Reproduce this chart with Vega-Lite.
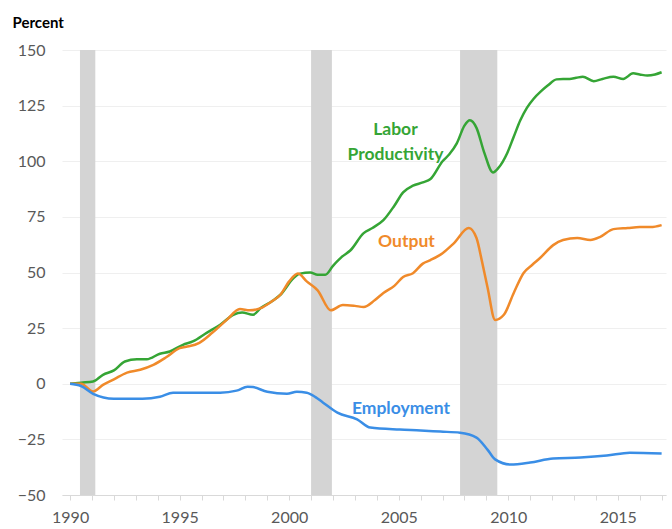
{
  "$schema": "https://vega.github.io/schema/vega-lite/v6.json",
  "width": 604,
  "height": 445,
  "autosize": {"type": "none"},
  "padding": {"left": 62, "top": 50, "right": 6, "bottom": 34},
  "background": "white",
  "config": {
    "view": {"stroke": null},
    "font": "Lato",
    "axis": {"labelFont": "Lato", "titleFont": "Lato"}
  },
  "datasets": {
    "rec": [
      {"start": 1990.45, "end": 1991.15},
      {"start": 2001.0, "end": 2001.95},
      {"start": 2007.8, "end": 2009.5}
    ],
    "series": [
      {"series": "Labor Productivity", "date": 1990.0, "value": 0},
      {"series": "Labor Productivity", "date": 1990.5, "value": 0.5},
      {"series": "Labor Productivity", "date": 1991.05, "value": 1},
      {"series": "Labor Productivity", "date": 1991.5, "value": 4},
      {"series": "Labor Productivity", "date": 1992.0, "value": 6},
      {"series": "Labor Productivity", "date": 1992.5, "value": 10},
      {"series": "Labor Productivity", "date": 1993.05, "value": 11},
      {"series": "Labor Productivity", "date": 1993.5, "value": 11},
      {"series": "Labor Productivity", "date": 1994.1, "value": 13.5},
      {"series": "Labor Productivity", "date": 1994.55, "value": 14.5},
      {"series": "Labor Productivity", "date": 1995.15, "value": 17.5},
      {"series": "Labor Productivity", "date": 1995.6, "value": 19},
      {"series": "Labor Productivity", "date": 1996.25, "value": 23},
      {"series": "Labor Productivity", "date": 1996.85, "value": 26.5},
      {"series": "Labor Productivity", "date": 1997.45, "value": 31},
      {"series": "Labor Productivity", "date": 1997.85, "value": 32},
      {"series": "Labor Productivity", "date": 1998.35, "value": 31},
      {"series": "Labor Productivity", "date": 1998.7, "value": 34},
      {"series": "Labor Productivity", "date": 1999.2, "value": 37},
      {"series": "Labor Productivity", "date": 1999.6, "value": 40},
      {"series": "Labor Productivity", "date": 2000.2, "value": 47.5},
      {"series": "Labor Productivity", "date": 2000.5, "value": 49.5},
      {"series": "Labor Productivity", "date": 2000.96, "value": 50},
      {"series": "Labor Productivity", "date": 2001.3, "value": 49},
      {"series": "Labor Productivity", "date": 2001.65, "value": 49},
      {"series": "Labor Productivity", "date": 2002.0, "value": 53},
      {"series": "Labor Productivity", "date": 2002.4, "value": 57},
      {"series": "Labor Productivity", "date": 2002.8, "value": 60},
      {"series": "Labor Productivity", "date": 2003.4, "value": 67.7},
      {"series": "Labor Productivity", "date": 2003.8, "value": 70},
      {"series": "Labor Productivity", "date": 2004.3, "value": 73.5},
      {"series": "Labor Productivity", "date": 2004.8, "value": 80},
      {"series": "Labor Productivity", "date": 2005.2, "value": 86},
      {"series": "Labor Productivity", "date": 2005.65, "value": 89},
      {"series": "Labor Productivity", "date": 2006.1, "value": 90.5},
      {"series": "Labor Productivity", "date": 2006.45, "value": 92},
      {"series": "Labor Productivity", "date": 2007.0, "value": 100},
      {"series": "Labor Productivity", "date": 2007.3, "value": 103},
      {"series": "Labor Productivity", "date": 2007.65, "value": 108},
      {"series": "Labor Productivity", "date": 2008.0, "value": 116},
      {"series": "Labor Productivity", "date": 2008.25, "value": 118.4},
      {"series": "Labor Productivity", "date": 2008.55, "value": 115},
      {"series": "Labor Productivity", "date": 2008.9, "value": 104},
      {"series": "Labor Productivity", "date": 2009.3, "value": 95},
      {"series": "Labor Productivity", "date": 2009.55, "value": 97},
      {"series": "Labor Productivity", "date": 2009.95, "value": 103.6},
      {"series": "Labor Productivity", "date": 2010.25, "value": 111},
      {"series": "Labor Productivity", "date": 2010.55, "value": 118.4},
      {"series": "Labor Productivity", "date": 2010.85, "value": 124},
      {"series": "Labor Productivity", "date": 2011.15, "value": 128},
      {"series": "Labor Productivity", "date": 2011.5, "value": 131.5},
      {"series": "Labor Productivity", "date": 2011.8, "value": 134},
      {"series": "Labor Productivity", "date": 2012.2, "value": 136.8},
      {"series": "Labor Productivity", "date": 2012.5, "value": 137},
      {"series": "Labor Productivity", "date": 2012.8, "value": 137},
      {"series": "Labor Productivity", "date": 2013.1, "value": 137.5},
      {"series": "Labor Productivity", "date": 2013.4, "value": 138},
      {"series": "Labor Productivity", "date": 2013.9, "value": 136},
      {"series": "Labor Productivity", "date": 2014.3, "value": 137},
      {"series": "Labor Productivity", "date": 2014.8, "value": 138},
      {"series": "Labor Productivity", "date": 2015.25, "value": 137},
      {"series": "Labor Productivity", "date": 2015.7, "value": 139.5},
      {"series": "Labor Productivity", "date": 2016.0, "value": 139},
      {"series": "Labor Productivity", "date": 2016.35, "value": 138.5},
      {"series": "Labor Productivity", "date": 2016.7, "value": 139},
      {"series": "Labor Productivity", "date": 2017.0, "value": 140},
      {"series": "Output", "date": 1990.0, "value": 0},
      {"series": "Output", "date": 1990.5, "value": 0},
      {"series": "Output", "date": 1991.05, "value": -3.5},
      {"series": "Output", "date": 1991.5, "value": -0.5},
      {"series": "Output", "date": 1992.0, "value": 2},
      {"series": "Output", "date": 1992.6, "value": 5},
      {"series": "Output", "date": 1993.2, "value": 6.3},
      {"series": "Output", "date": 1993.8, "value": 8.5},
      {"series": "Output", "date": 1994.4, "value": 12},
      {"series": "Output", "date": 1995.0, "value": 16},
      {"series": "Output", "date": 1995.3, "value": 16.6},
      {"series": "Output", "date": 1995.9, "value": 18.4},
      {"series": "Output", "date": 1996.5, "value": 23},
      {"series": "Output", "date": 1997.15, "value": 28.7},
      {"series": "Output", "date": 1997.75, "value": 33.6},
      {"series": "Output", "date": 1998.2, "value": 33},
      {"series": "Output", "date": 1998.7, "value": 34},
      {"series": "Output", "date": 1999.2, "value": 37},
      {"series": "Output", "date": 1999.6, "value": 40},
      {"series": "Output", "date": 2000.0, "value": 46},
      {"series": "Output", "date": 2000.4, "value": 49.5},
      {"series": "Output", "date": 2000.8, "value": 46},
      {"series": "Output", "date": 2001.3, "value": 42},
      {"series": "Output", "date": 2001.9, "value": 33},
      {"series": "Output", "date": 2002.45, "value": 35.4},
      {"series": "Output", "date": 2003.0, "value": 35},
      {"series": "Output", "date": 2003.4, "value": 34.5},
      {"series": "Output", "date": 2003.9, "value": 37.5},
      {"series": "Output", "date": 2004.3, "value": 40.8},
      {"series": "Output", "date": 2004.8, "value": 44},
      {"series": "Output", "date": 2005.2, "value": 48},
      {"series": "Output", "date": 2005.65, "value": 49.7},
      {"series": "Output", "date": 2006.1, "value": 54},
      {"series": "Output", "date": 2006.45, "value": 55.6},
      {"series": "Output", "date": 2007.0, "value": 58.7},
      {"series": "Output", "date": 2007.5, "value": 63},
      {"series": "Output", "date": 2008.2, "value": 70},
      {"series": "Output", "date": 2008.55, "value": 65.5},
      {"series": "Output", "date": 2008.8, "value": 55},
      {"series": "Output", "date": 2009.05, "value": 43.5},
      {"series": "Output", "date": 2009.4, "value": 28.7},
      {"series": "Output", "date": 2009.8, "value": 31},
      {"series": "Output", "date": 2010.25, "value": 40.8},
      {"series": "Output", "date": 2010.7, "value": 49.8},
      {"series": "Output", "date": 2011.1, "value": 53.5},
      {"series": "Output", "date": 2011.45, "value": 56.5},
      {"series": "Output", "date": 2012.05, "value": 62.3},
      {"series": "Output", "date": 2012.5, "value": 64.6},
      {"series": "Output", "date": 2013.15, "value": 65.5},
      {"series": "Output", "date": 2013.75, "value": 64.6},
      {"series": "Output", "date": 2014.2, "value": 66},
      {"series": "Output", "date": 2014.8, "value": 69.5},
      {"series": "Output", "date": 2015.45, "value": 70},
      {"series": "Output", "date": 2016.0, "value": 70.4},
      {"series": "Output", "date": 2016.5, "value": 70.4},
      {"series": "Output", "date": 2017.0, "value": 71.3},
      {"series": "Employment", "date": 1990.0, "value": 0},
      {"series": "Employment", "date": 1990.5, "value": -1},
      {"series": "Employment", "date": 1991.05, "value": -4.5},
      {"series": "Employment", "date": 1992.0, "value": -6.7},
      {"series": "Employment", "date": 1993.3, "value": -6.7},
      {"series": "Employment", "date": 1994.1, "value": -5.8},
      {"series": "Employment", "date": 1994.7, "value": -4},
      {"series": "Employment", "date": 1995.6, "value": -4},
      {"series": "Employment", "date": 1996.85, "value": -4},
      {"series": "Employment", "date": 1997.6, "value": -3.1},
      {"series": "Employment", "date": 1998.1, "value": -1.3},
      {"series": "Employment", "date": 1998.35, "value": -1.5},
      {"series": "Employment", "date": 1999.0, "value": -3.6},
      {"series": "Employment", "date": 1999.9, "value": -4.5},
      {"series": "Employment", "date": 2000.35, "value": -3.6},
      {"series": "Employment", "date": 2000.8, "value": -4},
      {"series": "Employment", "date": 2001.2, "value": -6},
      {"series": "Employment", "date": 2001.55, "value": -8.5},
      {"series": "Employment", "date": 2002.2, "value": -13},
      {"series": "Employment", "date": 2003.1, "value": -16},
      {"series": "Employment", "date": 2003.7, "value": -19.7},
      {"series": "Employment", "date": 2005.05, "value": -20.6},
      {"series": "Employment", "date": 2006.0, "value": -21},
      {"series": "Employment", "date": 2006.9, "value": -21.5},
      {"series": "Employment", "date": 2007.8, "value": -22},
      {"series": "Employment", "date": 2008.55, "value": -24.2},
      {"series": "Employment", "date": 2009.05, "value": -29.6},
      {"series": "Employment", "date": 2009.4, "value": -34},
      {"series": "Employment", "date": 2010.1, "value": -36.3},
      {"series": "Employment", "date": 2011.0, "value": -35.4},
      {"series": "Employment", "date": 2012.05, "value": -33.6},
      {"series": "Employment", "date": 2013.3, "value": -33.2},
      {"series": "Employment", "date": 2014.5, "value": -32.3},
      {"series": "Employment", "date": 2015.55, "value": -31},
      {"series": "Employment", "date": 2017.0, "value": -31.4}
    ],
    "labels": [
      {"series": "Labor Productivity", "text": "Labor", "date": 2004.85, "value": 114},
      {"series": "Labor Productivity", "text": "Productivity", "date": 2004.85, "value": 102.7},
      {"series": "Output", "text": "Output", "date": 2005.35, "value": 63.7},
      {"series": "Employment", "text": "Employment", "date": 2005.1, "value": -11.2}
    ]
  },
  "encoding": {
    "x": {"type": "quantitative", "scale": {"domain": [1989.63, 2017.2], "nice": false, "zero": false},
      "axis": {
        "values": [1990,1991,1992,1993,1994,1995,1996,1997,1998,1999,2000,2001,2002,2003,2004,2005,2006,2007,2008,2009,2010,2011,2012,2013,2014,2015,2016,2017],
        "format": "d",
        "labelExpr": "datum.value % 5 == 0 ? datum.label : ''",
        "title": null, "grid": false, "domainColor": "#d9d9d9", "domainWidth": 1,
        "tickColor": "#d9d9d9", "tickSize": 5, "labelFontSize": 16, "labelColor": "#595959",
        "labelPadding": 9, "labelFlush": false, "labelOverlap": false, "labelBound": false
      }
    }
  },
  "layer": [
    {
      "data": {"name": "rec"},
      "mark": {"type": "rect", "color": "#d4d4d4"},
      "encoding": {
        "x": {"field": "start", "type": "quantitative"},
        "x2": {"field": "end"}
      }
    },
    {
      "mark": {"type": "rule", "color": "#a6a6a6", "strokeWidth": 2},
      "encoding": {"y": {"datum": 0, "type": "quantitative"}}
    },
    {
      "data": {"name": "series"},
      "mark": {"type": "line", "strokeWidth": 2.5, "interpolate": "monotone"},
      "encoding": {
        "x": {"field": "date", "type": "quantitative"},
        "y": {"field": "value", "type": "quantitative", "scale": {"domain": [-50, 150], "nice": false},
          "axis": {
            "values": [-50,-25,0,25,50,75,100,125,150],
            "title": "Percent", "titleAngle": 0, "titleX": -50, "titleY": -23, "titleAlign": "left",
            "titleBaseline": "alphabetic", "titleFontSize": 15, "titleFontWeight": "bold", "titleColor": "#000000",
            "grid": true, "gridColor": "#efefef", "domain": false, "ticks": false,
            "labelFontSize": 16, "labelColor": "#595959", "labelPadding": 17
          }
        },
        "color": {"field": "series", "type": "nominal",
          "scale": {"domain": ["Labor Productivity", "Output", "Employment"], "range": ["#35a535", "#f08a2a", "#3a8ee6"]},
          "legend": null}
      }
    },
    {
      "data": {"name": "labels"},
      "mark": {"type": "text", "fontSize": 17.5, "fontWeight": "bold", "align": "center", "baseline": "middle"},
      "encoding": {
        "x": {"field": "date", "type": "quantitative"},
        "y": {"field": "value", "type": "quantitative"},
        "text": {"field": "text"},
        "color": {"field": "series", "type": "nominal", "legend": null}
      }
    }
  ]
}
